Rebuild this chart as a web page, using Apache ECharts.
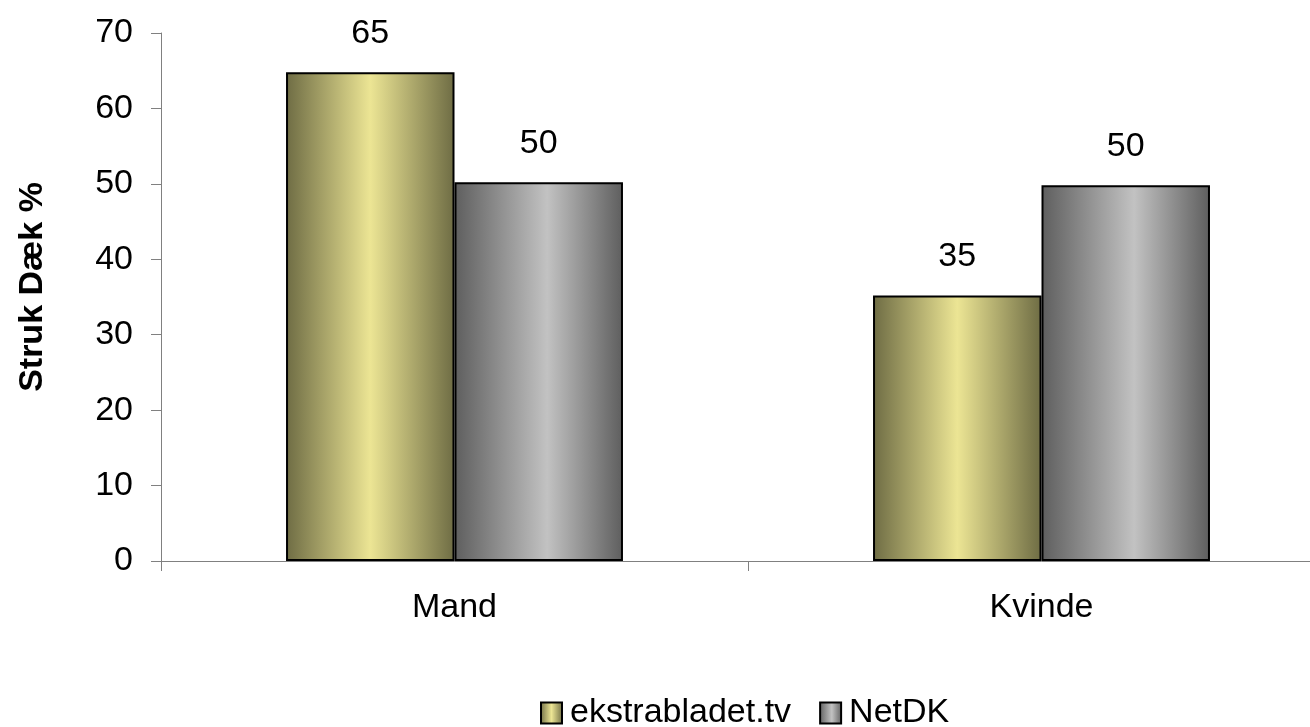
<!DOCTYPE html>
<html><head><meta charset="utf-8">
<script src="https://cdn.jsdelivr.net/npm/echarts@6/dist/echarts.min.js"></script>
<style>html,body{margin:0;padding:0;background:#fff;overflow:hidden}#c{width:1336px;height:727px}</style>
</head><body><div id="c"></div>
<script>
const categories = ['Mand', 'Kvinde'];
const seriesNames = ['ekstrabladet.tv', 'NetDK'];
const ekstrabladet = [64.8, 35.2];
const netdk = [50.2, 49.8];
const yTicks = [0, 10, 20, 30, 40, 50, 60, 70];

function grad(edge, mid, center) {
  return new echarts.graphic.LinearGradient(0, 0, 1, 0, [
    {offset: 0, color: edge}, {offset: center, color: mid}, {offset: 1, color: edge}
  ]);
}
const font = '"Liberation Sans", Arial, sans-serif';
const chart = echarts.init(document.getElementById('c'));
chart.setOption({
  animation: false,
  textStyle: {fontFamily: font},
  grid: {left: 161, right: 1, top: 33, bottom: 166, containLabel: false},
  legend: {
    top: 688, left: 535, itemWidth: 21, itemHeight: 21, itemGap: 28,
    icon: 'rect',
    textStyle: {fontSize: 34, lineHeight: 40, color: '#000', fontFamily: font, padding: [0, 0, 0, 3]},
    data: seriesNames
  },
  xAxis: {
    type: 'category', data: categories,
    axisLine: {lineStyle: {color: '#808080', width: 1}},
    axisTick: {show: true, length: 10, lineStyle: {color: '#808080'}},
    axisLabel: {fontSize: 34, color: '#000', margin: 30}
  },
  yAxis: {
    type: 'value', min: 0, max: 70, interval: 10,
    name: 'Struk Dæk %', nameLocation: 'middle', nameGap: 111,
    nameTextStyle: {fontSize: 34, fontWeight: 'bold', color: '#000', fontFamily: font, padding: [0, 0, 0, 20]},
    axisLine: {show: true, lineStyle: {color: '#808080'}},
    axisTick: {show: true, length: 10, lineStyle: {color: '#808080'}},
    splitLine: {show: false},
    axisLabel: {fontSize: 34, color: '#000', margin: 28,
      formatter: v => yTicks.includes(v) ? String(v) : ''}
  },
  series: [
    {
      name: seriesNames[0], type: 'bar', data: ekstrabladet,
      barGap: '0%', barCategoryGap: '42.6%',
      itemStyle: {color: grad('#6e6c44', '#ece594', 0.5), borderColor: '#000', borderWidth: 2},
      label: {show: true, position: 'top', distance: 22, fontSize: 34, color: '#000',
        formatter: p => Math.round(p.value)}
    },
    {
      name: seriesNames[1], type: 'bar', data: netdk,
      itemStyle: {color: grad('#5e5e5e', '#c2c2c2', 0.55), borderColor: '#000', borderWidth: 2},
      label: {show: true, position: 'top', distance: 22, fontSize: 34, color: '#000',
        formatter: p => Math.round(p.value)}
    }
  ]
});
</script></body></html>
